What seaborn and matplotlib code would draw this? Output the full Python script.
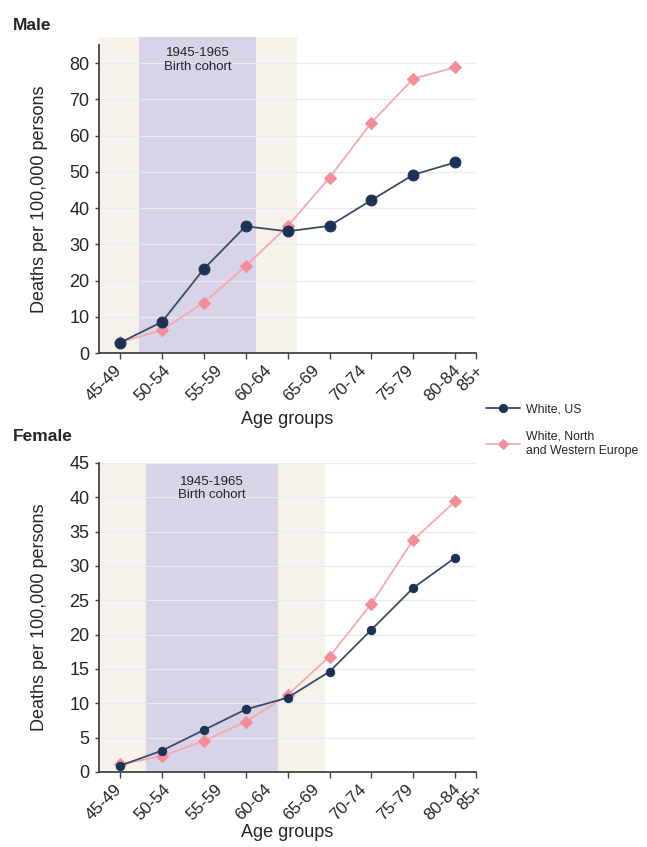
"""Suicide-style mortality by age group, US vs North/Western Europe."""

import matplotlib.pyplot as plt
import numpy as np
import pandas as pd
import seaborn as sns

AGE_GROUPS = ["45-49", "50-54", "55-59", "60-64", "65-69", "70-74", "75-79", "80-84", "85+"]
MALE_US = [2.9, 8.6, 23.2, 35.0, 33.6, 35.1, 42.2, 49.2, 52.6]
MALE_EUROPE = [3.0, 6.4, 13.9, 24.0, 35.0, 48.4, 63.6, 75.7, 78.8]
FEMALE_US = [0.9, 3.1, 6.1, 9.1, 10.8, 14.6, 20.7, 26.8, 31.2]
FEMALE_EUROPE = [1.1, 2.3, 4.5, 7.3, 11.2, 16.8, 24.5, 33.8, 39.4]
SERIES_US = "White, US"
SERIES_EU = "White, North\nand Western Europe"
COHORT_TEXT = "1945-1965\nBirth cohort"

# where the rotated tick labels sit (they drift from the data ticks in the source)
LABEL_POS = [-0.15, 1.03, 2.25, 3.43, 4.58, 5.7, 6.81, 7.93, 8.48]

NAVY = "#1d3356"
NAVY_LINE = "#3c4c66"
PINK = "#f58d99"
PINK_LINE = "#f7a8b0"
LAVENDER = "#d7d4e7"
BEIGE = "#f4f2eb"
SPINE = "#444444"

sns.set_theme(style="white")
plt.rcParams["font.family"] = ["Liberation Sans", "DejaVu Sans"]


def make_frame(us, eu):
    n = len(AGE_GROUPS)
    return pd.DataFrame({
        "pos": list(range(n)) * 2,
        "rate": list(us) + list(eu),
        "series": [SERIES_US] * n + [SERIES_EU] * n,
    })


def draw_panel(ax, df, ymax, ystep, bands, text_y, dot_size, diamond_size,
               band_top=1.0, xlabel_pad=3):
    beige_l, purple_r, beige_r = bands
    spans = [
        ax.axvspan(-0.5, beige_l, ymax=band_top, color=BEIGE, lw=0, zorder=0),
        ax.axvspan(beige_l, purple_r, ymax=band_top, color=LAVENDER, lw=0, zorder=0),
        ax.axvspan(purple_r, beige_r, ymax=band_top, color=BEIGE, lw=0, zorder=0),
    ]
    for span in spans:
        span.set_clip_on(False)
    ax.text((beige_l + purple_r) / 2, text_y, COHORT_TEXT, ha="center", va="top",
            fontsize=9.5, color="#222222", linespacing=1.15)

    sns.lineplot(data=df[df["series"] == SERIES_EU], x="pos", y="rate", ax=ax,
                 color=PINK_LINE, lw=1.3, marker="D", markersize=diamond_size,
                 markerfacecolor=PINK, markeredgecolor=PINK, label=SERIES_EU,
                 legend=False, zorder=3)
    sns.lineplot(data=df[df["series"] == SERIES_US], x="pos", y="rate", ax=ax,
                 color=NAVY_LINE, lw=1.3, marker="o", markersize=dot_size,
                 markerfacecolor=NAVY, markeredgecolor=NAVY, label=SERIES_US,
                 legend=False, zorder=4)

    ax.set_yticks(np.arange(0, ymax + 0.1, ystep))
    ax.yaxis.grid(True, color="#ebebeb", lw=0.8)
    ax.set_axisbelow(False)
    for line in ax.get_ygridlines():
        line.set_zorder(1)

    ax.set_xticks(list(range(len(AGE_GROUPS))) + [len(AGE_GROUPS) - 0.5])
    ax.set_xticklabels([])
    ax.set_xticks(LABEL_POS, AGE_GROUPS, minor=True)
    ax.tick_params(axis="x", which="minor", length=0, pad=7, labelsize=12.3,
                   labelrotation=45)
    for lab in ax.get_xticklabels(minor=True):
        lab.set_ha("right")
        lab.set_rotation_mode("anchor")
    ax.tick_params(axis="x", which="major", length=4, width=1, color=SPINE,
                   bottom=True, direction="out")
    ax.tick_params(axis="y", length=3, width=1, color=SPINE, left=True,
                   labelsize=13, pad=4)
    # limits last, so the label ticks cannot widen the view
    ax.set_xlim(-0.5, len(AGE_GROUPS) - 0.5)
    ax.set_ylim(0, ymax)

    ax.set_xlabel("Age groups", fontsize=13, labelpad=xlabel_pad)
    ax.set_ylabel("Deaths per 100,000 persons", fontsize=13, labelpad=15)
    sns.despine(ax=ax)
    for side in ("left", "bottom"):
        ax.spines[side].set_color(SPINE)
        ax.spines[side].set_linewidth(1.3)
        ax.spines[side].set_zorder(5)


fig = plt.figure(figsize=(6.47, 8.47), dpi=100)
ax_male = fig.add_axes([0.153, 0.583, 0.583, 0.364])
ax_female = fig.add_axes([0.153, 0.0886, 0.583, 0.365])

draw_panel(ax_male, make_frame(MALE_US, MALE_EUROPE), 85, 10,
           (0.46, 3.24, 4.22), 84.3, 7.8, 6.5, band_top=1.026, xlabel_pad=5)
draw_panel(ax_female, make_frame(FEMALE_US, FEMALE_EUROPE), 45, 5,
           (0.62, 3.77, 4.9), 43.1, 6, 6.5, xlabel_pad=0.5)

fig.text(13 / 647, 1 - 25 / 847, "Male", fontsize=12.5, weight="bold", va="center")
fig.text(13 / 647, 1 - 436 / 847, "Female", fontsize=12.5, weight="bold", va="center")

handles, labels = ax_male.get_legend_handles_labels()
order = [labels.index(SERIES_US), labels.index(SERIES_EU)]
fig.legend([handles[i] for i in order], [labels[i] for i in order],
           loc="upper left", bbox_to_anchor=(486 / 647, 1 - 403 / 847),
           frameon=False, fontsize=8.8, handlelength=2.75, handletextpad=0.5,
           labelspacing=1.3, borderpad=0, borderaxespad=0, markerscale=0.75)

fig.savefig("out.png", dpi=100)
